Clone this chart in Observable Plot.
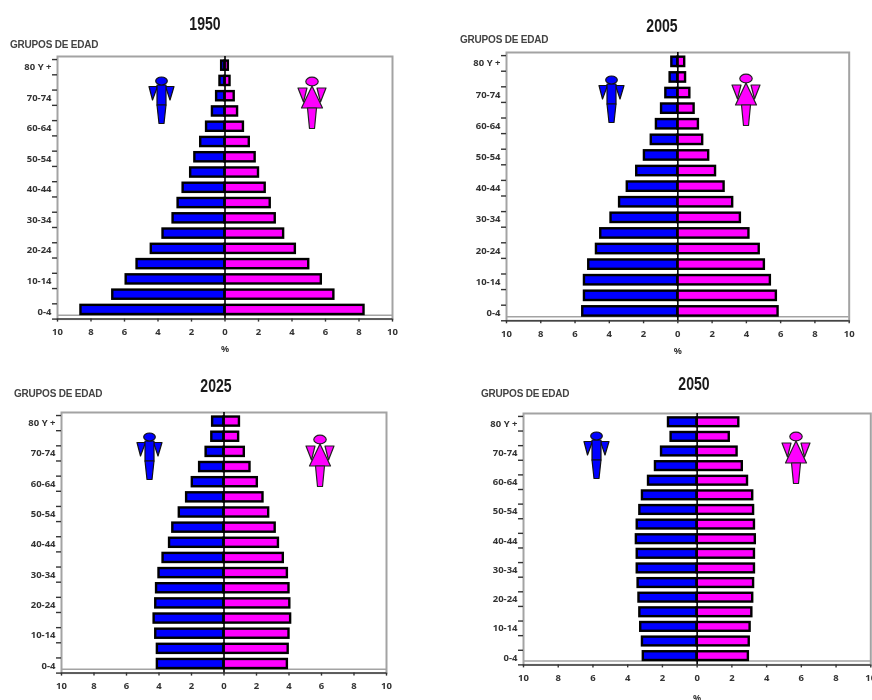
<!DOCTYPE html>
<html lang="es">
<head>
<meta charset="utf-8">
<script src="https://cdn.jsdelivr.net/npm/d3@7"></script>
<script src="https://cdn.jsdelivr.net/npm/@observablehq/plot@0.6"></script>
<style>
  html, body { margin: 0; padding: 0; background: #fff; overflow: hidden; }
  #page { position: relative; width: 872px; height: 700px; overflow: hidden; filter: blur(0.55px); font-family: "Liberation Sans", Arial, sans-serif; }
  #page > svg, #page > .t { position: absolute; }
  .title { font: bold 19px "Liberation Sans", sans-serif; color: #1a1a1a; transform: translateX(-50%) scaleX(0.74); white-space: nowrap; }
  .sub { font: bold 10px "Liberation Sans", sans-serif; color: #444; letter-spacing: -0.2px; white-space: nowrap; }
</style>
</head>
<body>
<div id="page"></div>
<svg width="0" height="0" style="position:absolute">
  <defs>
    <symbol id="man" viewBox="0 0 27 49">
      <g fill="#0000ff" stroke="#111" stroke-width="1.2" stroke-linejoin="round">
        <polygon points="1,10.5 9.5,10.5 4.5,24"/>
        <polygon points="17.5,10.5 26,10.5 22,24"/>
        <rect x="9" y="9" width="9" height="20"/>
        <polygon points="9,29 18,29 16,47.5 11,47.5"/>
        <ellipse cx="13.5" cy="5" rx="5.8" ry="4"/>
      </g>
    </symbol>
    <symbol id="woman" viewBox="0 0 30 54">
      <g fill="#ff00ff" stroke="#222" stroke-width="1.2" stroke-linejoin="round">
        <polygon points="1,12 10,12 6.5,26"/>
        <polygon points="29,12 20,12 23.5,26"/>
        <polygon points="15,10 25.5,32 4.5,32"/>
        <polygon points="10.5,32 19.5,32 17.5,52.5 12.5,52.5"/>
        <ellipse cx="15" cy="5.5" rx="6.2" ry="4.4"/>
      </g>
    </symbol>
  </defs>
</svg>
<script>
// Age groups, youngest to oldest
const ages = ["0-4","5-9","10-14","15-19","20-24","25-29","30-34","35-39","40-44","45-49","50-54","55-59","60-64","65-69","70-74","75-79","80 Y +"];
const xTicks = [-10,-8,-6,-4,-2,0,2,4,6,8,10];

// Percent of population per age group
const male1950   = [8.6,6.7,5.9,5.25,4.4,3.7,3.1,2.8,2.5,2.05,1.8,1.45,1.1,0.75,0.5,0.3,0.2];
const female1950 = [8.3,6.5,5.75,5.0,4.2,3.5,3.0,2.7,2.4,2.0,1.8,1.45,1.1,0.75,0.55,0.3,0.2];
const male2005   = [5.55,5.45,5.45,5.2,4.75,4.5,3.9,3.4,2.95,2.4,1.95,1.55,1.25,0.95,0.7,0.45,0.35];
const female2005 = [5.85,5.75,5.4,5.05,4.75,4.15,3.65,3.2,2.7,2.2,1.8,1.45,1.2,0.95,0.7,0.45,0.4];
const male2025   = [4.1,4.1,4.2,4.3,4.2,4.15,4.0,3.75,3.35,3.15,2.75,2.3,1.95,1.5,1.1,0.75,0.7];
const female2025 = [3.9,3.95,4.0,4.1,4.05,4.0,3.9,3.65,3.35,3.15,2.75,2.4,2.05,1.6,1.25,0.9,0.95];
const male2050   = [3.1,3.15,3.25,3.3,3.35,3.4,3.45,3.45,3.5,3.45,3.3,3.15,2.8,2.4,2.05,1.5,1.65];
const female2050 = [2.95,3.0,3.05,3.15,3.2,3.25,3.3,3.3,3.35,3.3,3.25,3.2,2.9,2.6,2.3,1.85,2.4];

const ink = "#333";
const mL = 56, mT = 6, mB = 40, mR = 14;

function panel(cfg) {
  const w = cfg.right - cfg.left, h = cfg.bottom - cfg.top;
  const chart = Plot.plot({
    width: w + mL + mR, height: h + mT + mB,
    marginLeft: mL, marginRight: mR, marginTop: mT, marginBottom: mB,
    x: {domain: [-10, 10], axis: null},
    y: {domain: [0, 17.2], axis: null},
    style: {background: "transparent", overflow: "visible"},
    marks: [
      Plot.frame({stroke: "#a3a3a3", strokeWidth: 2}),
      Plot.ruleY([0.26], {stroke: "#a3a3a3", strokeWidth: 1.5}),
      Plot.ruleY([0], {stroke: "#444", strokeWidth: 1.5}),
      Plot.rectX(ages, {x1: () => 0, x2: (d, i) => -cfg.male[i], y1: (d, i) => i + 0.3, y2: (d, i) => i + 0.9, fill: "#0000ff", stroke: "#000", strokeWidth: 2.4}),
      Plot.rectX(ages, {x1: () => 0, x2: (d, i) => cfg.female[i], y1: (d, i) => i + 0.3, y2: (d, i) => i + 0.9, fill: "#ff00ff", stroke: "#000", strokeWidth: 2.4}),
      Plot.ruleX([0], {stroke: "#000", strokeWidth: 1.6}),
      Plot.axisY(d3.range(18), {tickSize: 5, tickFormat: () => "", stroke: ink, strokeWidth: 1.4}),
      Plot.axisY(d3.range(0, 17, 2).map(i => i + 0.5), {tickSize: 0, tickPadding: 6, tickFormat: v => ages[Math.floor(v)], fontSize: 9.5, fontWeight: "bold", fill: ink}),
      Plot.axisX(xTicks, {anchor: "bottom", tickSize: 3, tickPadding: 6, tickFormat: v => Math.abs(v), fontSize: 9.5, fontWeight: "bold", fill: ink, stroke: ink, strokeWidth: 1.4, label: null}),
      Plot.text(["%"], {frameAnchor: "bottom", dy: cfg.pctDy, fontSize: 9, fontWeight: "bold", fill: ink})
    ]
  });
  chart.style.left = (cfg.left - mL) + "px";
  chart.style.top = (cfg.top - mT) + "px";
  const page = document.getElementById("page");
  page.appendChild(chart);

  const title = document.createElement("div");
  title.className = "t title"; title.textContent = cfg.title;
  title.style.left = cfg.titleX + "px"; title.style.top = cfg.titleY + "px";
  page.appendChild(title);

  const sub = document.createElement("div");
  sub.className = "t sub"; sub.textContent = "GRUPOS DE EDAD";
  sub.style.left = cfg.subX + "px"; sub.style.top = cfg.subY + "px";
  page.appendChild(sub);

  page.insertAdjacentHTML("beforeend",
    `<svg class="t" style="left:${cfg.manX}px;top:${cfg.manY}px" width="27" height="49"><use href="#man"/></svg>` +
    `<svg class="t" style="left:${cfg.womanX}px;top:${cfg.womanY}px" width="30" height="54"><use href="#woman"/></svg>`);
}

panel({title: "1950", male: male1950, female: female1950, left: 57.3, right: 392.3, top: 55.7, bottom: 318.3, pctDy: 33,
  titleX: 204.5, titleY: 13, subX: 10, subY: 39, manX: 147.5, manY: 76, womanX: 296.5, womanY: 76});
panel({title: "2005", male: male2005, female: female2005, left: 506, right: 848.7, top: 51.7, bottom: 320, pctDy: 33,
  titleX: 661.5, titleY: 15, subX: 460, subY: 34, manX: 598, manY: 75, womanX: 731, womanY: 73});
panel({title: "2025", male: male2025, female: female2025, left: 60.7, right: 385.7, top: 411.7, bottom: 672.3, pctDy: 33,
  titleX: 216, titleY: 375, subX: 14, subY: 388, manX: 135.5, manY: 432, womanX: 305, womanY: 434});
panel({title: "2050", male: male2050, female: female2050, left: 523, right: 870.3, top: 413.3, bottom: 664.7, pctDy: 36,
  titleX: 693.5, titleY: 373, subX: 481, subY: 388, manX: 583, manY: 431, womanX: 781, womanY: 431});
</script>
</body>
</html>
